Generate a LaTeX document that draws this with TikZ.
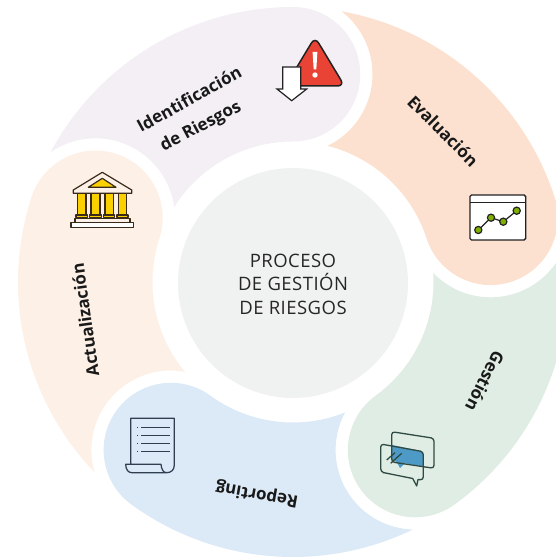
\documentclass[tikz,border=0pt]{standalone}
\usepackage{fontspec}
\setmainfont{Open Sans}
\newfontfamily\titlefont[LetterSpace=2.5]{Open Sans}
\definecolor{cPurple}{HTML}{F3EFF5}
\definecolor{cPeach}{HTML}{FCE1D0}
\definecolor{cGreen}{HTML}{E0EDE4}
\definecolor{cBlue}{HTML}{DCE9F6}
\definecolor{cCream}{HTML}{FDF0E7}
\definecolor{cCentre}{HTML}{F0F2F1}
\definecolor{cInk}{HTML}{222222}
\definecolor{cRed}{HTML}{E94335}
\definecolor{cLime}{HTML}{7FB000}
\definecolor{cChat}{HTML}{2F4A44}
\definecolor{cChatBlue}{HTML}{4D9AC6}
\definecolor{cDoc}{HTML}{2F3F4F}
\definecolor{cBank}{HTML}{3A2A1A}
\definecolor{cGold}{HTML}{FBD000}
\newcommand{\blob}[2]{%
  \fill[#1,shift={(293pt,278pt)},rotate=#2]
    (151.82:275pt)
    arc[start angle=151.82,end angle=90,radius=275pt]
    arc[start angle=90,end angle=-90,radius=67.25pt]
    arc[start angle=90,end angle=147.75,radius=140.5pt]
    arc[start angle=7.8,end angle=124.3,radius=79.5pt]
    -- cycle;}
\tikzset{
  lab/.style={font=\bfseries\fontsize{17}{19}\selectfont,text=black!90,inner sep=0pt,align=center},
  bankline/.style={draw=cBank,line width=1.2pt,line join=round},
  docline/.style={draw=cDoc,line width=1.25pt},
  chatline/.style={draw=cChat,line width=1.3pt,line join=round}
}
\begin{document}
\begin{tikzpicture}[x=1pt,y=1pt]
\useasboundingbox (0,0) rectangle (556,560);
\clip (0,0) rectangle (556,560);
\blob{cPurple}{0}
\blob{cPeach}{-72}
\blob{cGreen}{-144}
\blob{cBlue}{-216}
\blob{cCream}{-288}
\begin{scope}[y=-1pt,yshift=560pt]
\node[circle,fill=cCentre,minimum size=230pt,inner sep=0pt] (centre) at (293,283) {};
\node[inner sep=0pt,align=center,text=black!85,font=\titlefont\fontsize{18.5}{23.5}\selectfont] (title) at (293,284) {PROCESO\\DE GESTIÓN\\DE RIESGOS};
\node[lab,rotate=29] (id1) at (189,99) {Identificación};
\node[lab,rotate=28] (id2) at (201,127) {de Riesgos};
\node[lab,rotate=-45] (ev) at (443,131) {Evaluación};
\node[lab,rotate=-117] (ge) at (485,381) {Gestión};
\node[lab,rotate=170] (re) at (257,494) {Reporting};
\node[lab,rotate=98] (ac) at (85,320) {Actualización};
% warning
\draw[fill=cRed,draw=cInk,line width=1.5pt,rounded corners=7pt] (315,37) -- (344.5,86) -- (285.5,86) -- cycle;
\fill[white] (312.6,52) -- (317.4,52) -- (316.3,69.5) -- (313.7,69.5) -- cycle;
\fill[white] (315,75) circle[radius=2.7pt];
\draw[fill=white,draw=cInk,line width=1.2pt,line join=miter] (282.7,67) -- (300.7,67) -- (300.7,89) -- (306.7,89) -- (291.7,100.7) -- (277,89) -- (282.7,89) -- cycle;
% chart
\draw[fill=white,draw=cInk,line width=1.4pt,rounded corners=1.5pt] (470,195) rectangle (525.7,240);
\draw[cInk,line width=1.4pt] (470,202.3) -- (525.7,202.3);
\draw[cInk,line width=1.2pt] (478.3,230) -- (491,217.7) -- (503.3,221.7) -- (516.7,210.7);
\foreach \p in {(478.3,230),(491,217.7),(503.3,221.7),(516.7,210.7)}
  \draw[fill=cLime,draw=cInk,line width=1.2pt] \p circle[radius=3.6pt];
% chat
\fill[cChatBlue] (392,445) -- (421,451) -- (423.3,454) -- (423.3,466.5) -- (405,463.3) -- (400,468) -- (396.7,462) -- (392,460) -- cycle;
\draw[chatline,rounded corners=3pt] (391.7,431.7) -- (434,438.3) -- (434,468.3) -- (391.7,462) -- cycle;
\draw[chatline] (380.7,447) to[rounded corners=3pt] (380.7,444) to[rounded corners=3pt] (423.3,451.7) to[rounded corners=3pt] (423.3,480) -- (418,479.5) -- (416.7,486) -- (412.7,478.5) -- (383,472.5) to[rounded corners=3pt] (380.7,471.7) -- cycle;
\draw[chatline] (386.7,460) -- (395,452.7);
\draw[chatline] (390.7,463.3) -- (401.7,453.3);
% document
\draw[docline,line join=round] (130.7,464.3) -- (130.7,418.3) -- (174.3,418.3) -- (174.3,465) .. controls (174.3,470) and (171,472.7) .. (166.7,472.7) -- (131.7,472.7) .. controls (128,472.7) and (125.7,469) .. (125.7,464.3) -- (161,464.3) .. controls (161.5,469) and (163,472.7) .. (166.7,472.7);
\foreach \yy in {427.7,435.7,443.3,451.3} {
  \draw[docline] (141,\yy) -- (170,\yy);
  \draw[docline,line width=0.9pt] (136.8,\yy) -- (138,\yy);
}
% bank
\draw[bankline,fill=cCream] (102.3,172.3) -- (131.7,190) -- (131.7,193.3) -- (73.3,193.3) -- (73.3,190) -- cycle;
\draw[bankline,fill=cGold] (102.3,178.3) -- (116,187.3) -- (88.3,187.3) -- cycle;
\foreach \a/\b in {77.3/86,91/100,105/113.3,118.3/126.7} {
  \draw[bankline,fill=cGold] (\a,193.3) rectangle (\b,215);
  \draw[bankline,fill=cGold] (\a-1.3,215) rectangle (\b+1.3,217.5);
}
\draw[bankline,fill=cCream] (75,218.5) rectangle (130,222.3);
\draw[bankline,fill=white] (71,222.3) rectangle (133.3,227.7);
\end{scope}
\end{tikzpicture}
\end{document}
